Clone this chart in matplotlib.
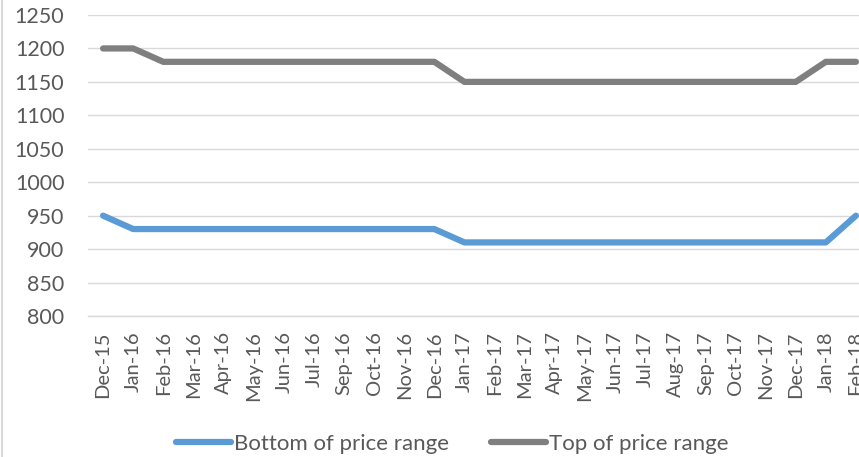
import matplotlib
matplotlib.use("Agg")
import matplotlib.pyplot as plt
from matplotlib.lines import Line2D

months = ["Dec-15", "Jan-16", "Feb-16", "Mar-16", "Apr-16", "May-16", "Jun-16", "Jul-16",
          "Sep-16", "Oct-16", "Nov-16", "Dec-16", "Jan-17", "Feb-17", "Mar-17", "Apr-17",
          "May-17", "Jun-17", "Jul-17", "Aug-17", "Sep-17", "Oct-17", "Nov-17", "Dec-17",
          "Jan-18", "Feb-18"]
bottom = [950, 930, 930, 930, 930, 930, 930, 930, 930, 930, 930, 930, 910, 910, 910, 910,
          910, 910, 910, 910, 910, 910, 910, 910, 910, 950]
top = [1200, 1200, 1180, 1180, 1180, 1180, 1180, 1180, 1180, 1180, 1180, 1180, 1150, 1150,
       1150, 1150, 1150, 1150, 1150, 1150, 1150, 1150, 1150, 1150, 1180, 1180]
yticks = list(range(800, 1251, 50))

plt.rcParams['font.family'] = ['Lato', 'DejaVu Sans']
W, H = 859, 457
fig = plt.figure(figsize=(W / 100, H / 100), dpi=100)
ax = fig.add_axes([88 / W, 1 - 316 / H, (871 - 88) / W, (316 - 15) / H])

x = list(range(len(months)))
ax.plot(x, bottom, color="#5B9BD5", lw=4.5, solid_capstyle="round", solid_joinstyle="round",
        label="Bottom of price range", zorder=3)
ax.plot(x, top, color="#7F7F7F", lw=4.5, solid_capstyle="round", solid_joinstyle="round",
        label="Top of price range", zorder=3)

ax.set_xlim(-0.5, len(months) - 0.5)
ax.set_ylim(800, 1250)
ax.set_yticks(yticks)
ax.set_xticks(x)
ax.set_xticklabels(months, rotation=90, fontsize=14.5, color="#595959")
ax.tick_params(axis="y", labelsize=15.5, colors="#595959", length=0, pad=17)
ax.tick_params(axis="x", length=0, pad=11)
ax.grid(axis="y", color="#D9D9D9", lw=1)
ax.set_axisbelow(True)
for s in ["top", "right", "left"]:
    ax.spines[s].set_visible(False)
ax.spines["bottom"].set_color("#D9D9D9")
ax.spines["bottom"].set_linewidth(1)

handles = [Line2D([0], [0], color="#5B9BD5", lw=4.5, solid_capstyle="round"),
           Line2D([0], [0], color="#7F7F7F", lw=4.5, solid_capstyle="round")]
fig.legend(handles, ["Bottom of price range", "Top of price range"], loc="center",
           bbox_to_anchor=(452 / W, 1 - 444 / H), ncol=2, frameon=False, fontsize=16,
           labelcolor="#595959", handlelength=2.5, handletextpad=0.1, columnspacing=1.9)

fig.add_artist(Line2D([2 / W, 2 / W], [0, 1], color="#D9D9D9", lw=1.5))

fig.savefig("out.png", dpi=100)
